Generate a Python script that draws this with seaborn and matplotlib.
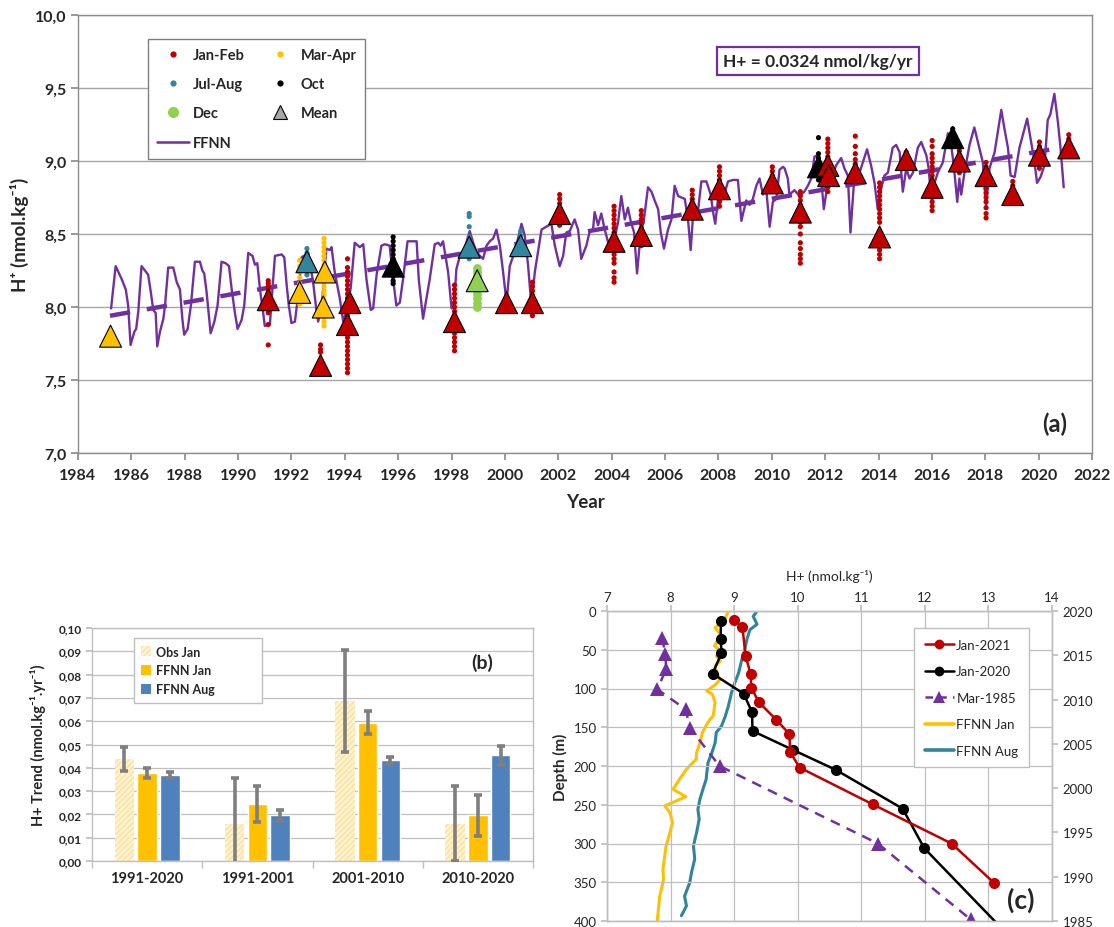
import numpy as np
import pandas as pd
import matplotlib
matplotlib.use("Agg")
import matplotlib.pyplot as plt
from matplotlib.lines import Line2D
from matplotlib.patches import Patch
from matplotlib.ticker import FuncFormatter, MultipleLocator, FixedLocator
import seaborn as sns

# ---------------------------------------------------------------- panel (a) data
# FFNN reconstruction (decimal year, H+ nmol/kg)
ffnn_year = [
    1985.24, 1985.41, 1985.64, 1985.79, 1985.88, 1985.97, 1986.11, 1986.18, 1986.26, 1986.38,
    1986.51, 1986.63, 1986.73, 1986.82, 1986.91, 1986.97, 1987.07, 1987.20, 1987.26, 1987.38,
    1987.57, 1987.70, 1987.82, 1987.91, 1987.98, 1988.11, 1988.23, 1988.38, 1988.57, 1988.66,
    1988.73, 1988.82, 1988.97, 1989.11, 1989.23, 1989.38, 1989.53, 1989.66, 1989.76, 1989.88,
    1989.98, 1990.13, 1990.23, 1990.38, 1990.54, 1990.63, 1990.72, 1990.82, 1990.94, 1991.00,
    1991.19, 1991.38, 1991.63, 1991.73, 1991.82, 1991.90, 1992.00, 1992.13, 1992.25, 1992.38,
    1992.63, 1992.81, 1992.94, 1993.00, 1993.13, 1993.31, 1993.44, 1993.50, 1993.62, 1993.81,
    1993.94, 1994.06, 1994.22, 1994.37, 1994.50, 1994.56, 1994.69, 1994.81, 1994.97, 1995.06,
    1995.19, 1995.37, 1995.50, 1995.68, 1995.81, 1995.93, 1996.06, 1996.18, 1996.35, 1996.50,
    1996.69, 1996.77, 1996.93, 1997.06, 1997.18, 1997.37, 1997.50, 1997.59, 1997.68, 1997.77,
    1997.87, 1998.00, 1998.10, 1998.18, 1998.31, 1998.49, 1998.68, 1998.81, 1998.93, 1999.06,
    1999.18, 1999.31, 1999.43, 1999.56, 1999.68, 1999.81, 1999.93, 2000.06, 2000.18, 2000.31,
    2000.49, 2000.62, 2000.74, 2000.87, 2000.99, 2001.12, 2001.24, 2001.37, 2001.55, 2001.74,
    2001.87, 2002.05, 2002.18, 2002.30, 2002.43, 2002.61, 2002.74, 2002.86, 2003.05, 2003.18,
    2003.30, 2003.36, 2003.49, 2003.61, 2003.74, 2003.93, 2004.05, 2004.24, 2004.36, 2004.49,
    2004.61, 2004.71, 2004.84, 2004.95, 2005.09, 2005.21, 2005.36, 2005.49, 2005.61, 2005.74,
    2005.84, 2005.96, 2006.11, 2006.24, 2006.36, 2006.49, 2006.61, 2006.74, 2006.86, 2006.96,
    2007.05, 2007.23, 2007.36, 2007.55, 2007.71, 2007.80, 2007.88, 2007.98, 2008.17, 2008.36,
    2008.54, 2008.73, 2008.86, 2009.04, 2009.17, 2009.29, 2009.42, 2009.54, 2009.67, 2009.79,
    2009.92, 2010.04, 2010.17, 2010.29, 2010.42, 2010.48, 2010.60, 2010.66, 2010.85, 2011.04,
    2011.22, 2011.35, 2011.48, 2011.60, 2011.73, 2011.85, 2011.95, 2012.08, 2012.23, 2012.41,
    2012.60, 2012.72, 2012.85, 2012.95, 2013.07, 2013.22, 2013.41, 2013.57, 2013.72, 2013.85,
    2013.97, 2014.10, 2014.22, 2014.35, 2014.53, 2014.66, 2014.79, 2014.91, 2015.04, 2015.16,
    2015.29, 2015.47, 2015.60, 2015.79, 2015.87, 2015.97, 2016.10, 2016.22, 2016.41, 2016.60,
    2016.70, 2016.82, 2016.95, 2017.03, 2017.10, 2017.22, 2017.41, 2017.59, 2017.75, 2017.91,
    2018.03, 2018.16, 2018.35, 2018.60, 2018.72, 2018.85, 2018.95, 2019.10, 2019.28, 2019.57,
    2019.72, 2019.84, 2019.94, 2020.07, 2020.22, 2020.34, 2020.44, 2020.59, 2020.72, 2020.82,
    2020.94,
]
ffnn_h = [
    7.99, 8.28, 8.19, 8.12, 8.01, 7.74, 7.83, 7.85, 7.97, 8.28,
    8.25, 8.22, 8.10, 7.98, 7.96, 7.73, 7.83, 7.92, 8.01, 8.27,
    8.27, 8.17, 8.12, 7.92, 7.81, 7.85, 8.01, 8.31, 8.31, 8.25,
    8.23, 8.10, 7.82, 7.90, 8.01, 8.31, 8.30, 8.28, 8.12, 7.96,
    7.85, 7.91, 8.01, 8.37, 8.35, 8.29, 8.30, 8.12, 7.96, 7.87,
    7.88, 8.35, 8.36, 8.34, 8.15, 8.01, 7.89, 7.90, 8.08, 8.34,
    8.37, 8.17, 7.97, 7.90, 8.00, 8.40, 8.39, 8.41, 8.24, 8.06,
    7.90, 7.97, 8.13, 8.44, 8.42, 8.41, 8.43, 8.19, 7.98, 7.99,
    8.22, 8.42, 8.43, 8.42, 8.19, 8.01, 8.03, 8.19, 8.45, 8.45,
    8.45, 8.19, 7.92, 8.06, 8.19, 8.43, 8.44, 8.42, 8.45, 8.35,
    8.24, 7.99, 8.03, 8.26, 8.35, 8.40, 8.52, 8.44, 8.38, 8.35,
    8.33, 8.42, 8.45, 8.47, 8.53, 8.42, 8.24, 8.03, 8.28, 8.35,
    8.47, 8.57, 8.49, 8.28, 8.01, 8.24, 8.38, 8.53, 8.55, 8.57,
    8.42, 8.28, 8.35, 8.51, 8.52, 8.60, 8.53, 8.33, 8.42, 8.52,
    8.53, 8.65, 8.56, 8.64, 8.53, 8.40, 8.42, 8.58, 8.76, 8.60,
    8.68, 8.59, 8.51, 8.23, 8.51, 8.60, 8.82, 8.79, 8.73, 8.67,
    8.51, 8.40, 8.53, 8.60, 8.83, 8.76, 8.75, 8.74, 8.60, 8.39,
    8.63, 8.65, 8.86, 8.86, 8.77, 8.65, 8.57, 8.73, 8.74, 8.86,
    8.87, 8.87, 8.59, 8.73, 8.70, 8.74, 8.83, 8.88, 8.77, 8.81,
    8.55, 8.72, 8.74, 8.94, 8.96, 8.95, 8.88, 8.77, 8.80, 8.76,
    8.79, 8.83, 8.88, 9.03, 9.04, 8.88, 8.67, 8.83, 8.88, 8.97,
    9.02, 8.95, 8.90, 8.51, 8.83, 8.88, 8.99, 9.08, 8.97, 8.85,
    8.67, 8.81, 8.90, 8.92, 9.09, 9.11, 9.06, 8.79, 8.95, 8.88,
    8.92, 9.09, 9.13, 9.04, 8.96, 8.76, 8.85, 8.92, 8.99, 9.19,
    9.14, 8.97, 8.72, 8.88, 8.77, 8.92, 9.11, 9.23, 9.11, 8.99,
    8.69, 8.95, 9.06, 9.35, 9.22, 9.09, 8.90, 8.89, 9.09, 9.29,
    9.13, 9.00, 8.85, 8.89, 8.97, 9.28, 9.32, 9.46, 9.27, 9.09,
    8.82,
]

# linear trend, 0.0324 nmol/kg/yr
trend_year = [1985.2, 2021.1]
trend_h = [7.94, 9.10]

# individual samples grouped by cast date
janfeb_dates = [1991.13, 1993.09, 1994.10, 1998.11, 2000.06, 2001.03, 2002.05, 2004.09,
                2005.11, 2007.02, 2008.04, 2010.02, 2011.07, 2012.10, 2013.13, 2014.04,
                2015.04, 2016.01, 2017.03, 2018.03, 2019.03, 2020.03, 2021.13]
janfeb_values = [
    [8.18, 8.16, 8.14, 8.12, 8.10, 8.08, 8.05, 8.02, 8.00, 7.98, 7.96, 7.88, 7.74],
    [7.74, 7.71, 7.69, 7.62, 7.58, 7.56],
    [8.33, 8.27, 8.24, 8.21, 8.18, 8.15, 8.12, 8.09, 8.06, 8.03, 8.00, 7.97, 7.94,
     7.91, 7.88, 7.85, 7.82, 7.79, 7.76, 7.73, 7.70, 7.67, 7.64, 7.61, 7.58, 7.55],
    [8.15, 8.12, 8.09, 8.06, 8.03, 8.00, 7.97, 7.94, 7.91, 7.88, 7.85, 7.82, 7.79,
     7.76, 7.73, 7.70],
    [8.07, 8.05, 8.03, 8.01, 7.99, 7.97],
    [8.17, 8.14, 8.11, 8.08, 8.05, 8.02, 7.99, 7.96, 7.94],
    [8.77, 8.74, 8.71, 8.68, 8.65, 8.62, 8.59, 8.56],
    [8.69, 8.66, 8.63, 8.60, 8.57, 8.54, 8.51, 8.48, 8.45, 8.42, 8.39, 8.36, 8.33,
     8.30, 8.24, 8.20, 8.17],
    [8.66, 8.63, 8.60, 8.57, 8.54, 8.51, 8.48, 8.45, 8.42],
    [8.80, 8.77, 8.74, 8.71, 8.68, 8.64],
    [8.96, 8.93, 8.90, 8.87, 8.84, 8.81, 8.78, 8.75, 8.72, 8.69],
    [8.96, 8.93, 8.90, 8.87, 8.84, 8.81],
    [8.79, 8.76, 8.73, 8.70, 8.67, 8.64, 8.61, 8.58, 8.55, 8.50, 8.44, 8.40, 8.36,
     8.33, 8.30],
    [9.15, 9.12, 9.09, 9.06, 9.03, 9.00, 8.97, 8.94, 8.91, 8.88, 8.85, 8.82, 8.79],
    [9.17, 9.10, 9.05, 9.01, 8.98, 8.95, 8.92, 8.90],
    [8.85, 8.82, 8.79, 8.76, 8.73, 8.70, 8.67, 8.64, 8.61, 8.58, 8.52, 8.48, 8.45,
     8.42, 8.39, 8.36, 8.33],
    [9.06, 9.03, 9.00, 8.97],
    [9.14, 9.10, 9.05, 9.02, 8.99, 8.96, 8.93, 8.90, 8.87, 8.84, 8.81, 8.78, 8.75,
     8.72, 8.69, 8.66],
    [9.07, 9.04, 9.01, 8.98, 8.95, 8.92],
    [8.99, 8.96, 8.93, 8.90, 8.87, 8.84, 8.81, 8.78, 8.75, 8.72, 8.68, 8.64, 8.61],
    [8.86, 8.83, 8.80, 8.77, 8.75],
    [9.13, 9.10, 9.07, 9.04, 9.01, 8.98, 8.95],
    [9.18, 9.15, 9.12, 9.09, 9.06, 9.04],
]
marapr_dates = [1985.22, 1992.31, 1993.22]
marapr_values = [
    [7.80],
    [8.32, 8.28, 8.24, 8.20, 8.16, 8.12, 8.08, 8.04, 8.02],
    [8.47, 8.44, 8.41, 8.38, 8.35, 8.32, 8.29, 8.26, 8.23, 8.20, 8.17, 8.14, 8.11,
     8.08, 8.05, 8.02, 7.99, 7.96, 7.93, 7.90, 7.87],
]
julaug_dates = [1992.58, 1998.66, 2000.59]
julaug_values = [
    [8.40, 8.37, 8.34, 8.31, 8.28, 8.25, 8.22],
    [8.64, 8.62, 8.55, 8.48, 8.45, 8.42, 8.39, 8.36, 8.33],
    [8.52, 8.49, 8.46, 8.43, 8.40, 8.38],
]
oct_dates = [1995.81, 2011.75, 2016.78]
oct_values = [
    [8.48, 8.45, 8.42, 8.39, 8.36, 8.33, 8.30, 8.27, 8.24, 8.21, 8.18, 8.16],
    [9.16, 9.05, 9.02, 8.99, 8.96, 8.93, 8.90, 8.87],
    [9.22, 9.19, 9.16, 9.13, 9.10],
]
dec_dates = [1998.96]
dec_values = [[8.27, 8.24, 8.21, 8.18, 8.15, 8.12, 8.09, 8.06, 8.03, 8.00]]

# cast means
mean_year = [1985.22, 1991.13, 1992.31, 1992.58, 1993.09, 1993.19, 1993.25, 1994.10,
             1994.19, 1995.81, 1998.11, 1998.66, 1998.96, 2000.06, 2000.59, 2001.03,
             2002.05, 2004.09, 2005.11, 2007.02, 2008.04, 2010.02, 2011.07, 2011.75,
             2012.10, 2012.13, 2013.13, 2014.04, 2015.04, 2016.01, 2016.78, 2017.03,
             2018.03, 2019.03, 2020.03, 2021.13]
mean_h = [7.80, 8.05, 8.10, 8.31, 7.60, 8.00, 8.24, 7.88,
          8.03, 8.28, 7.90, 8.41, 8.18, 8.03, 8.42, 8.03,
          8.64, 8.45, 8.49, 8.67, 8.81, 8.85, 8.65, 8.96,
          8.97, 8.90, 8.92, 8.48, 9.01, 8.82, 9.16, 9.00,
          8.90, 8.77, 9.04, 9.09]
mean_season = ["Mar-Apr", "Jan-Feb", "Mar-Apr", "Jul-Aug", "Jan-Feb", "Mar-Apr", "Mar-Apr", "Jan-Feb",
               "Jan-Feb", "Oct", "Jan-Feb", "Jul-Aug", "Dec", "Jan-Feb", "Jul-Aug", "Jan-Feb",
               "Jan-Feb", "Jan-Feb", "Jan-Feb", "Jan-Feb", "Jan-Feb", "Jan-Feb", "Jan-Feb", "Oct",
               "Jan-Feb", "Jan-Feb", "Jan-Feb", "Jan-Feb", "Jan-Feb", "Jan-Feb", "Oct", "Jan-Feb",
               "Jan-Feb", "Jan-Feb", "Jan-Feb", "Jan-Feb"]

# ---------------------------------------------------------------- panel (b) data
periods = ["1991-2020", "1991-2001", "2001-2010", "2010-2020"]
obs_jan = [0.0437, 0.0160, 0.0686, 0.0160]
obs_jan_err = [0.0052, 0.0195, 0.0220, 0.0160]
ffnn_jan = [0.0379, 0.0245, 0.0594, 0.0196]
ffnn_jan_err = [0.0022, 0.0078, 0.0051, 0.0087]
ffnn_aug = [0.0368, 0.0197, 0.0432, 0.0453]
ffnn_aug_err = [0.0012, 0.0024, 0.0016, 0.0039]

# ---------------------------------------------------------------- panel (c) data
jan2021_h = [8.99, 9.13, 9.18, 9.26, 9.27, 9.39, 9.66, 9.87, 9.88, 10.03, 11.18, 12.42, 13.09]
jan2021_z = [11.6, 20.6, 58, 81.7, 99, 118, 140, 159, 182, 202, 249.5, 300, 351]
jan2020_h = [8.79, 8.79, 8.80, 8.66, 9.15, 9.28, 9.29, 9.93, 10.60, 11.65, 11.99, 13.45]
jan2020_z = [12.9, 35.7, 54.6, 80.9, 106.7, 130.3, 154.8, 179.4, 205, 255, 306, 430]
mar1985_h = [7.865, 7.92, 7.93, 7.79, 8.24, 8.30, 8.77, 11.26, 12.72]
mar1985_z = [34.4, 55.9, 75.3, 101, 127, 150.5, 200, 300, 398]

ffnn_jan_h = [8.91, 8.84, 8.70, 8.78, 8.72, 8.69, 8.79, 8.72, 8.78, 8.70, 8.72, 8.78,
              8.71, 8.57, 8.66, 8.70, 8.67, 8.62, 8.57, 8.50, 8.47, 8.41, 8.40, 8.25,
              8.14, 8.04, 8.24, 7.91, 7.99, 8.03, 7.99, 7.93, 7.88, 7.89, 7.83, 7.79]
ffnn_jan_yr = [2020.0, 2018.87, 2018.12, 2017.37, 2016.43, 2016.05, 2015.48, 2014.92,
               2014.36, 2013.79, 2013.04, 2012.29, 2011.72, 2010.97, 2010.59, 2009.65,
               2008.15, 2007.77, 2007.21, 2006.27, 2005.32, 2004.01, 2003.25, 2002.13,
               2001.00, 1999.87, 1999.04, 1997.99, 1997.23, 1996.10, 1994.98, 1993.47,
               1990.84, 1989.71, 1987.83, 1985.0]
ffnn_aug_h = [9.36, 9.30, 9.36, 9.25, 9.20, 9.17, 9.12, 9.07, 9.01, 8.96, 8.91, 8.86,
              8.80, 8.72, 8.70, 8.65, 8.59, 8.57, 8.56, 8.51, 8.46, 8.43, 8.45, 8.41,
              8.36, 8.38, 8.33, 8.30, 8.22, 8.25, 8.17]
ffnn_aug_yr = [2020.0, 2019.4, 2018.5, 2017.9, 2016.8, 2015.7, 2014.5, 2013.0, 2011.9,
               2010.8, 2009.3, 2008.1, 2007.0, 2006.3, 2005.1, 2004.0, 2002.9, 2001.75,
               2001.0, 1999.9, 1998.7, 1997.6, 1996.5, 1995.0, 1993.5, 1992.0, 1990.5,
               1989.3, 1987.8, 1986.7, 1985.6]

# ---------------------------------------------------------------- style
sns.set_theme(style="white")
plt.rcParams["font.family"] = ["Lato", "DejaVu Sans"]
plt.rcParams["hatch.linewidth"] = 0.6

PURPLE = "#7030A0"
SEASON_COLORS = {"Jan-Feb": "#C00000", "Mar-Apr": "#FFC000", "Jul-Aug": "#31859C",
                 "Oct": "#000000", "Dec": "#92D050"}
GRID = "#A6A6A6"
SPINE = "#8C8C8C"


def comma(fmt):
    return FuncFormatter(lambda v, p: format(v, fmt).replace(".", ","))


def samples_frame(season, dates, values):
    rows = [(d, v, season) for d, vals in zip(dates, values) for v in vals]
    return pd.DataFrame(rows, columns=["year", "h", "season"])


fig = plt.figure(figsize=(11.14, 9.28), dpi=100)

# ================================================================ panel (a)
ax = fig.add_axes([78 / 1114, 1 - 454 / 928, (1092 - 78) / 1114, (454 - 16) / 928])

sns.lineplot(x=ffnn_year, y=ffnn_h, ax=ax, color=PURPLE, lw=1.7, sort=False,
             estimator=None, zorder=2)
sns.lineplot(x=trend_year, y=trend_h, ax=ax, color=PURPLE, lw=3.2, sort=False,
             estimator=None, zorder=3)
ax.lines[-1].set_linestyle((0, (4.6, 3.8)))

samples = pd.concat([
    samples_frame("Jan-Feb", janfeb_dates, janfeb_values),
    samples_frame("Mar-Apr", marapr_dates, marapr_values),
    samples_frame("Jul-Aug", julaug_dates, julaug_values),
    samples_frame("Oct", oct_dates, oct_values),
], ignore_index=True)
sns.scatterplot(data=samples, x="year", y="h", hue="season", palette=SEASON_COLORS,
                s=14, linewidth=0, ax=ax, legend=False, zorder=4)
dec = samples_frame("Dec", dec_dates, dec_values)
sns.scatterplot(data=dec, x="year", y="h", color=SEASON_COLORS["Dec"], s=40,
                linewidth=0, ax=ax, legend=False, zorder=4)

means = pd.DataFrame({"year": mean_year, "h": mean_h, "season": mean_season})
sns.scatterplot(data=means, x="year", y="h", hue="season", palette=SEASON_COLORS,
                marker="^", s=250, edgecolor="black", linewidth=0.8, ax=ax,
                legend=False, zorder=5)

ax.set_xlim(1984, 2022)
ax.set_ylim(7.0, 10.0)
ax.xaxis.set_major_locator(MultipleLocator(2))
ax.yaxis.set_major_locator(MultipleLocator(0.5))
ax.yaxis.set_major_formatter(comma(".1f"))
ax.grid(axis="y", color=GRID, lw=1.0)
ax.grid(axis="x", visible=False)
for s in ax.spines.values():
    s.set_color(SPINE)
    s.set_linewidth(1.0)
ax.tick_params(axis="x", bottom=True, length=5, color=SPINE, labelsize=11.5, pad=6)
ax.tick_params(axis="y", left=True, length=5, color=SPINE, labelsize=11.5)
for lab in ax.get_xticklabels() + ax.get_yticklabels():
    lab.set_fontweight("bold")
ax.set_xlabel("Year", fontsize=13.5, fontweight="bold", labelpad=8)
ax.set_ylabel("H\u207a (nmol.kg\u207b\u00b9)", fontsize=13.5, fontweight="bold", labelpad=4)

dot = dict(marker="o", ls="none", markeredgewidth=0)
handles = [
    Line2D([], [], color=SEASON_COLORS["Jan-Feb"], markersize=4.5, label="Jan-Feb", **dot),
    Line2D([], [], color=SEASON_COLORS["Jul-Aug"], markersize=4.5, label="Jul-Aug", **dot),
    Line2D([], [], color=SEASON_COLORS["Dec"], markersize=8, label="Dec", **dot),
    Line2D([], [], color=PURPLE, lw=1.8, label="FFNN"),
    Line2D([], [], color=SEASON_COLORS["Mar-Apr"], markersize=4.5, label="Mar-Apr", **dot),
    Line2D([], [], color=SEASON_COLORS["Oct"], markersize=4.5, label="Oct", **dot),
    Line2D([], [], marker="^", ls="none", markerfacecolor="#A6A6A6",
           markeredgecolor="black", markeredgewidth=0.8, markersize=10, label="Mean"),
]
leg = ax.legend(handles=handles, ncol=2, loc="upper left", bbox_to_anchor=(0.069, 0.945),
                frameon=True, fancybox=False, edgecolor="#7F7F7F", framealpha=1,
                handlelength=2.2, handletextpad=0.3, columnspacing=1.3,
                labelspacing=1.05, borderpad=0.6, borderaxespad=0,
                prop={"weight": "bold", "size": 10.5})
leg.get_frame().set_linewidth(1.0)

ax.text(0.73, 0.895, "H+ = 0.0324 nmol/kg/yr", transform=ax.transAxes, ha="center",
        va="center", fontsize=12.5, fontweight="bold",
        bbox=dict(boxstyle="square,pad=0.35", fc="white", ec=PURPLE, lw=1.6))
ax.text(0.975, 0.04, "(a)", transform=ax.transAxes, ha="right", va="bottom",
        fontsize=17, fontweight="bold")

# ================================================================ panel (b)
bx = fig.add_axes([92 / 1114, 1 - 862 / 928, (533 - 92) / 1114, (862 - 629) / 928])

series_names = ["Obs Jan", "FFNN Jan", "FFNN Aug"]
trend_df = pd.DataFrame({
    "period": periods * 3,
    "series": [n for n in series_names for _ in periods],
    "trend": obs_jan + ffnn_jan + ffnn_aug,
})
bar_colors = {"Obs Jan": "#FFF2CC", "FFNN Jan": "#FFC000", "FFNN Aug": "#4F81BD"}
sns.barplot(data=trend_df, x="period", y="trend", hue="series", order=periods,
            hue_order=series_names, palette=bar_colors, saturation=1, errorbar=None,
            width=0.62, gap=0.15, ax=bx, legend=False, zorder=2)

for bar in bx.containers[0]:
    bar.set_hatch("//////")
    bar.set_edgecolor("#F7D889")
    bar.set_linewidth(0)

for cont, errs in zip(bx.containers, [obs_jan_err, ffnn_jan_err, ffnn_aug_err]):
    xs = [b.get_x() + b.get_width() / 2 for b in cont]
    hs = [b.get_height() for b in cont]
    bx.errorbar(xs, hs, yerr=errs, fmt="none", ecolor="#7F7F7F", elinewidth=2.6,
                capsize=3, capthick=2.6, zorder=3)

bx.set_ylim(0, 0.10)
bx.set_xlim(-0.5, 3.5)
bx.yaxis.set_major_locator(MultipleLocator(0.01))
bx.yaxis.set_major_formatter(comma(".2f"))
bx.grid(axis="y", color="#BFBFBF", lw=0.9, zorder=0)
bx.set_axisbelow(True)
for s in bx.spines.values():
    s.set_color("#BFBFBF")
    s.set_linewidth(1.0)
bx.xaxis.set_minor_locator(FixedLocator([-0.5, 0.5, 1.5, 2.5, 3.5]))
bx.tick_params(axis="x", which="major", length=0, labelsize=10.5, pad=7)
bx.tick_params(axis="x", which="minor", bottom=True, length=5, color="#BFBFBF")
bx.tick_params(axis="y", left=True, length=4, color="#BFBFBF", labelsize=8.5)
for lab in bx.get_xticklabels() + bx.get_yticklabels():
    lab.set_fontweight("bold")
bx.set_xlabel("")
bx.set_ylabel("H+ Trend (nmol.kg\u207b\u00b9.yr\u207b\u00b9)", fontsize=10.5,
              fontweight="bold", labelpad=9)

b_handles = [
    Patch(facecolor="#FFF2CC", edgecolor="#F7D889", hatch="//////", lw=0, label="Obs Jan"),
    Patch(facecolor="#FFC000", lw=0, label="FFNN Jan"),
    Patch(facecolor="#4F81BD", lw=0, label="FFNN Aug"),
]
bleg = bx.legend(handles=b_handles, loc="upper left", bbox_to_anchor=(0.095, 0.957, 0.29, 0.0),
                 mode="expand", frameon=True, fancybox=False, edgecolor="#BFBFBF",
                 framealpha=1, handlelength=0.8, handleheight=0.8, handletextpad=0.4,
                 labelspacing=0.55, borderpad=0.6, borderaxespad=0,
                 prop={"weight": "bold", "size": 9})
bleg.get_frame().set_linewidth(1.0)
bx.text(0.884, 0.854, "(b)", transform=bx.transAxes, ha="center", va="center",
        fontsize=14, fontweight="bold")

# ================================================================ panel (c)
cx = fig.add_axes([607 / 1114, 1 - 922 / 928, (1052 - 607) / 1114, (922 - 612) / 928])
cy = cx.twinx()

sns.lineplot(x=ffnn_jan_h, y=ffnn_jan_yr, ax=cy, color="#FFC000", lw=2.2, sort=False,
             estimator=None, orient="y")
sns.lineplot(x=ffnn_aug_h, y=ffnn_aug_yr, ax=cy, color="#31849B", lw=2.2, sort=False,
             estimator=None, orient="y")

sns.lineplot(x=mar1985_h, y=mar1985_z, ax=cx, color="#7030A0", lw=1.8, sort=False,
             estimator=None, orient="y", marker="^", markersize=10,
             markeredgewidth=0)
cx.lines[-1].set_linestyle((0, (4, 3)))
sns.lineplot(x=jan2020_h, y=jan2020_z, ax=cx, color="black", lw=1.8, sort=False,
             estimator=None, orient="y", marker="o", markersize=8, markeredgewidth=0)
sns.lineplot(x=jan2021_h, y=jan2021_z, ax=cx, color="#C00000", lw=1.8, sort=False,
             estimator=None, orient="y", marker="o", markersize=8, markeredgewidth=0)

cx.set_zorder(cy.get_zorder() + 1)
cx.patch.set_visible(False)

cx.set_xlim(7, 14)
cx.set_ylim(400, 0)
cy.set_ylim(1985, 2020)
cx.xaxis.set_major_locator(MultipleLocator(1))
cx.yaxis.set_major_locator(MultipleLocator(50))
cy.yaxis.set_major_locator(MultipleLocator(5))
cx.xaxis.tick_top()
cx.xaxis.set_label_position("top")
cy.grid(False)
cx.grid(True, color="#BFBFBF", lw=0.9)
for a in (cx, cy):
    for s in a.spines.values():
        s.set_color("#BFBFBF")
        s.set_linewidth(1.0)
cx.tick_params(axis="x", top=True, bottom=False, length=4, color="#BFBFBF", labelsize=9.5, pad=2)
cx.tick_params(axis="y", left=True, length=4, color="#BFBFBF", labelsize=9.5)
cy.tick_params(axis="y", right=True, length=4, color="#BFBFBF", labelsize=9.5)
cx.set_xlabel("H+ (nmol.kg\u207b\u00b9)", fontsize=10, labelpad=8)
cx.set_ylabel("Depth (m)", fontsize=11, fontweight="bold", labelpad=4)
cy.set_ylabel("")

c_handles = [
    Line2D([], [], color="#C00000", lw=1.8, marker="o", markersize=7, markeredgewidth=0, label="Jan-2021"),
    Line2D([], [], color="black", lw=1.8, marker="o", markersize=7, markeredgewidth=0, label="Jan-2020"),
    Line2D([], [], color="#7030A0", lw=1.8, ls=(0, (3, 2.5)), marker="^", markersize=8,
           markeredgewidth=0, label="Mar-1985"),
    Line2D([], [], color="#FFC000", lw=2.6, label="FFNN Jan"),
    Line2D([], [], color="#31849B", lw=2.6, label="FFNN Aug"),
]
cleg = cx.legend(handles=c_handles, loc="upper left", bbox_to_anchor=(0.69, 0.945),
                 frameon=True, fancybox=False, edgecolor="#BFBFBF", framealpha=1,
                 handlelength=2.2, handletextpad=0.2, labelspacing=1.1,
                 borderpad=0.8, borderaxespad=0, prop={"size": 9.5})
cleg.get_frame().set_linewidth(1.0)
cx.text(0.93, 0.07, "(c)", transform=cx.transAxes, ha="center", va="center",
        fontsize=19, fontweight="bold")

fig.savefig("out.png", dpi=100)
